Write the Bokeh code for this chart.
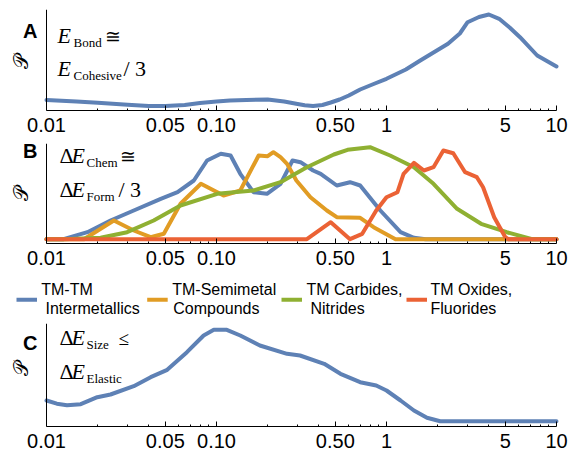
import math
from bokeh.plotting import figure
from bokeh.models import Range1d, FixedTicker, Label, Span
from bokeh.layouts import column
from bokeh.core.properties import value
from bokeh.embed import file_html
from bokeh.resources import INLINE

# ---------------- data (x: energy ratio, log scale; y: relative probability, arbitrary units) ----
tick_vals = [0.01, 0.05, 0.1, 0.5, 1, 5, 10]
tick_labels = ["0.01", "0.05", "0.10", "0.50", "1", "5", "10"]
minor_vals = [0.02, 0.03, 0.04, 0.06, 0.07, 0.08, 0.09, 0.2, 0.3, 0.4, 0.6, 0.7, 0.8, 0.9,
              2, 3, 4, 6, 7, 8, 9]

# Panel A : E_Bond ~ E_Cohesive / 3
a_x = [0.01, 0.015, 0.02, 0.03, 0.04, 0.05, 0.065, 0.08, 0.1, 0.12, 0.15, 0.2, 0.25, 0.3,
       0.33, 0.37, 0.42, 0.47, 0.53, 0.6, 0.7, 0.84, 1.0, 1.3, 1.58, 2.3, 2.7, 3.0, 3.5, 4.0,
       4.6, 5.3, 6.1, 7.7, 10]
a_y = [6.5, 5, 3.8, 1.8, 0.5, 0.5, 1.5, 3.5, 5, 6, 6.5, 7, 5, 2.5,
       1.2, 0.4, 1.5, 4, 7, 11, 17, 22.5, 27.7, 37, 46, 62.7, 73, 84.3, 89.5, 92,
       87.7, 79, 69.3, 51, 40]

# Panel B : dE_Chem ~ dE_Form / 3
b_tm_x = [0.01, 0.0126, 0.0174, 0.0238, 0.0326, 0.047, 0.059, 0.0736, 0.088, 0.106, 0.121,
          0.138, 0.165, 0.198, 0.238, 0.28, 0.312, 0.37, 0.41, 0.51, 0.61, 0.70, 0.92, 1.21,
          1.45, 1.7, 10]
b_tm_y = [0, 0, 7, 18.7, 28.7, 40.4, 47, 58.7, 78.7, 85.4, 83.7,
          65.4, 47, 45.4, 55.4, 78.7, 77, 68.7, 65.4, 53.7, 57, 53.7, 28.7, 7,
          1.4, 0, 0]

b_sm_x = [0.01, 0.0166, 0.0249, 0.0326, 0.041, 0.049, 0.0614, 0.081, 0.110, 0.138, 0.177,
          0.2, 0.216, 0.238, 0.26, 0.295, 0.357, 0.446, 0.51, 0.70, 0.84, 1.13, 10]
b_sm_y = [0, 0, 18.7, 8.7, 2, 5.4, 35.4, 55.4, 43.7, 48.7, 83.7,
          83, 87, 82, 75.4, 58.7, 42, 28.7, 22, 21.4, 12, 0, 0]

b_cn_x = [0.01, 0.0126, 0.0208, 0.0298, 0.0427, 0.0614, 0.101, 0.165, 0.238, 0.34, 0.49,
          0.59, 0.80, 1.05, 1.45, 1.89, 2.6, 3.6, 5.1, 7.2, 10]
b_cn_y = [0, 0, 1.4, 7, 18.7, 33.7, 45.4, 48.7, 57, 72, 84.7,
          89.4, 92, 83.7, 72, 55.4, 30.4, 15.4, 7, 0, 0]

b_ox_x = [0.01, 0.34, 0.47, 0.61, 0.72, 0.87, 1.0, 1.16, 1.26, 1.45, 1.66, 1.89, 2.16, 2.47,
          2.9, 3.4, 3.7, 4.3, 5.0, 5.2, 10]
b_ox_y = [0, 0, 17, 0, 5.4, 28.7, 42, 47, 65.4, 76.4, 68.7, 72, 88.7, 86,
          67, 62, 52, 22, 2, 0, 0]

# Panel C : dE_Size <= dE_Elastic
c_x = [0.01, 0.0115, 0.0132, 0.0159, 0.0199, 0.0238, 0.0326, 0.041, 0.0513, 0.067, 0.084,
       0.0964, 0.115, 0.138, 0.18, 0.26, 0.31, 0.43, 0.536, 0.70, 0.87, 1.0, 1.21, 1.45, 1.73,
       2.07, 10]
c_y = [20.7, 17.5, 16, 17, 24, 26.7, 35, 44, 51.4, 69, 85.7,
       91.4, 91.4, 85.7, 75.7, 67.4, 65.7, 57.4, 47.4, 39, 35.7, 30.7, 20.7, 10.7, 3.4,
       0, 0]

legend_line1 = ["TM-TM", "TM-Semimetal", "TM Carbides,", "TM Oxides,"]
legend_line2 = ["Intermetallics", "Compounds", "Nitrides", "Fluorides"]

COLORS = ["#5E81B5", "#E19C24", "#8FB032", "#EB6235"]

# ---------------- layout constants (page pixels) ----------------
W = 571
AX_LEFT = 46          # page x of 0.01
PX_PER_DEC = 170.0    # page pixels per decade
X_START = 10 ** (-2 - AX_LEFT / PX_PER_DEC)
X_END = 10 ** (-2 + (W - AX_LEFT) / PX_PER_DEC)
SANS = "Liberation Sans"
SERIF = "Liberation Serif"
BASE_FIX = 0.36       # empirical shift for alphabetic baseline placement


def make_panel(fig_top, top, frame_h, bottom, y0, y1, standoff):
    p = figure(width=W, height=top + frame_h + bottom, x_axis_type="log",
               x_range=Range1d(X_START, X_END), y_range=Range1d(y0, y1),
               y_axis_location=None,
               min_border_left=0, min_border_right=0, min_border_top=top,
               min_border_bottom=bottom, toolbar_location=None, output_backend="svg",
               title=None)
    p.outline_line_color = None
    p.grid.visible = False
    p.background_fill_color = "white"
    p.border_fill_color = "white"
    xa = p.xaxis[0]
    xa.bounds = (0.01, 10)
    xa.ticker = FixedTicker(ticks=tick_vals, minor_ticks=minor_vals)
    xa.major_label_overrides = {v: s for v, s in zip(tick_vals, tick_labels)}
    xa.major_tick_in = 5
    xa.major_tick_out = 0
    xa.minor_tick_in = 2
    xa.minor_tick_out = 0
    xa.major_label_standoff = standoff
    xa.major_label_text_font = SANS
    xa.major_label_text_font_size = "20px"
    xa.major_label_text_color = "black"
    xa.axis_line_color = "black"
    xa.major_tick_line_color = "black"
    xa.minor_tick_line_color = "black"
    p.add_layout(Span(location=0.01, dimension="height", line_color="black", line_width=1))
    p._meta = (fig_top + top, frame_h, y0, y1)
    return p


def put(p, wx, wy, text, size, style="normal", font=SERIF, align="left",
        baseline="alphabetic", angle=0.0):
    T, fh, y0, y1 = p._meta
    if baseline == "alphabetic":
        wy -= BASE_FIX * size
    x = 10 ** (-2 + (wx - AX_LEFT) / PX_PER_DEC)
    y = y1 - (wy - T) / fh * (y1 - y0)
    p.add_layout(Label(x=x, y=y, text=text, text_font=font, text_font_size=f"{size}px",
                       text_font_style=style, text_baseline=baseline, text_align=align,
                       text_color="black", angle=angle))


def curve(p, xs, ys, color):
    p.line(xs, ys, line_width=4, line_color=color, line_join="round", line_cap="round")


def script_p(p, wy):
    put(p, 20, wy, "\U0001D4AB", 20, font="DejaVu Serif", align="center",
        baseline="middle", angle=math.pi / 2)


# ---------------- panel A ----------------
pa = make_panel(0, 9, 101, 30, -4, 97, 7)
curve(pa, a_x, a_y, COLORS[0])
put(pa, 22.5, 37.5, "A", 20, "bold", SANS)
script_p(pa, 61)
put(pa, 57, 43, "E", 22, "italic")
put(pa, 73, 46.5, "Bond", 13)
put(pa, 104, 43, "\u2245", 19)
put(pa, 57, 76, "E", 22, "italic")
put(pa, 73, 79.5, "Cohesive", 13)
put(pa, 123, 76, "/ 3", 22)

# ---------------- panel B ----------------
pb = make_panel(140, 3, 100, 30, -4.3, 95.7, 7)
for xs, ys, c in [(b_tm_x, b_tm_y, COLORS[0]), (b_sm_x, b_sm_y, COLORS[1]),
                  (b_cn_x, b_cn_y, COLORS[2]), (b_ox_x, b_ox_y, COLORS[3])]:
    curve(pb, xs, ys, c)
put(pb, 22.5, 158, "B", 20, "bold", SANS)
script_p(pb, 193)
put(pb, 59, 163, "\u0394", 22)
put(pb, 71, 163, "E", 22, "italic")
put(pb, 86, 166.5, "Chem", 13)
put(pb, 119, 163, "\u2245", 19)
put(pb, 59, 197, "\u0394", 22)
put(pb, 71, 197, "E", 22, "italic")
put(pb, 86, 200.5, "Form", 13)
put(pb, 118, 197, "/ 3", 22)

# ---------------- legend strip ----------------
LH = 50
leg = figure(width=W, height=LH, x_range=Range1d(0, W), y_range=Range1d(LH, 0),
             min_border=0, min_border_left=0, min_border_right=0, min_border_top=0,
             min_border_bottom=0, toolbar_location=None, output_backend="svg",
             x_axis_location=None, y_axis_location=None, title=None)
leg.outline_line_color = None
leg.grid.visible = False
sw_x0 = [16, 146.7, 281, 406]
sw_len = 20.5
sw_y = 26.3
t1_x = [40.7, 171.7, 306, 430]
t2_x = [45, 172.7, 310, 430]
LEG_FS = 16
for i in range(4):
    leg.line([sw_x0[i], sw_x0[i] + sw_len], [sw_y, sw_y], line_width=4, line_color=COLORS[i])
leg.text(x=t1_x, y=[22 - BASE_FIX * LEG_FS] * 4, text=legend_line1, text_font=value(SANS),
         text_font_size=f"{LEG_FS}px", text_baseline="alphabetic", text_align="left",
         text_color="black")
leg.text(x=t2_x, y=[40.3 - BASE_FIX * LEG_FS] * 4, text=legend_line2, text_font=value(SANS),
         text_font_size=f"{LEG_FS}px", text_baseline="alphabetic", text_align="left",
         text_color="black")

# ---------------- panel C ----------------
pc = make_panel(323, 0, 103, 33, -5.3, 97.7, 7)
curve(pc, c_x, c_y, COLORS[0])
put(pc, 22.5, 350, "C", 20, "bold", SANS)
script_p(pc, 368)
put(pc, 59, 345, "\u0394", 22)
put(pc, 71, 345, "E", 22, "italic")
put(pc, 86, 348.5, "Size", 13)
put(pc, 118, 345, "\u2264", 19)
put(pc, 59, 379, "\u0394", 22)
put(pc, 71, 379, "E", 22, "italic")
put(pc, 86, 382.5, "Elastic", 13)

for q in (pa, pb, pc):
    del q._meta

p = column(pa, pb, leg, pc, spacing=0)
open("out.html", "w").write(file_html(p, INLINE))
